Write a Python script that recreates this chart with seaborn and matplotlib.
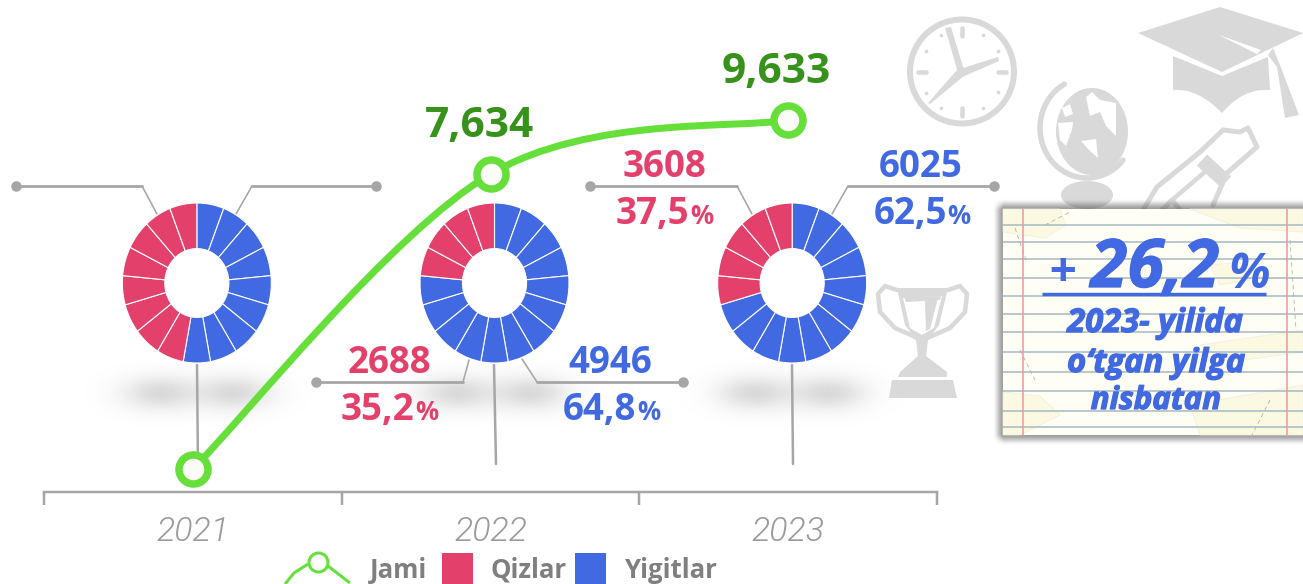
import numpy as np
import pandas as pd
import matplotlib
matplotlib.use('Agg')
import matplotlib.pyplot as plt
import matplotlib.patheffects as pe
from matplotlib.patches import Ellipse, PathPatch, Polygon, Rectangle
from matplotlib.path import Path
import seaborn as sns

# Data
years = ['2021', '2022', '2023']
jami_level = [23, 318, 372]  # height of the line above the axis (the chart is not to scale)
jami_labels = ['', '7,634', '9,633']
qizlar_counts = ['', '2688', '3608']
yigitlar_counts = ['', '4946', '6025']
qizlar_share = ['', '35,2', '37,5']
yigitlar_share = ['', '64,8', '62,5']
qizlar_wedges = [8, 4, 5]  # out of 17 wedges per donut
yigitlar_wedges = [9, 13, 12]
legend_labels = ['Jami', 'Qizlar', 'Yigitlar']

RED = '#E3416C'
BLUE = '#4169E1'
GREEN = '#66DF3A'
DARK_GREEN = '#36921A'
GREY = '#A6A6A6'
ICON = '#D9D9D9'
FONT = 'Open Sans'
PX = 72 / 100  # one pixel in points

sns.set_theme(style='white')
plt.rcParams['font.family'] = [FONT, 'DejaVu Sans']

W, H = 1303, 584
fig = plt.figure(figsize=(W / 100, H / 100), dpi=100)

# pixel canvas for the decoration, labels and note card
deco = fig.add_axes([0, 0, 1, 1], zorder=0)
deco.set_xlim(0, W)
deco.set_ylim(H, 0)
deco.axis('off')


def blob(cx, cy, sx, sy, amount):
    xs = np.arange(cx - 3 * sx, cx + 3 * sx)
    ys = np.arange(cy - 3 * sy, cy + 3 * sy)
    gx, gy = np.meshgrid(xs, ys)
    alpha = amount * np.exp(-((gx - cx) / sx) ** 2 / 2 - ((gy - cy) / sy) ** 2 / 2)
    img = np.zeros(alpha.shape + (4,))
    img[..., :3] = 0.55
    img[..., 3] = alpha
    deco.imshow(img, extent=(xs[0], xs[-1], ys[-1], ys[0]), aspect='auto', zorder=1, interpolation='bilinear')


def line(pts, lw=2.5, color=GREY, z=3, cap='round'):
    xs, ys = zip(*pts)
    deco.plot(xs, ys, color=color, lw=lw * PX, solid_capstyle=cap, solid_joinstyle='round', zorder=z)


def poly(pts, color=ICON, z=2):
    deco.add_patch(Polygon(pts, closed=True, fc=color, ec='none', zorder=z))


# donut shadows
for cx in [197, 494, 792]:
    blob(cx - 37, 393, 26, 12, 0.32)
    blob(cx + 37, 393, 26, 12, 0.32)

# leader lines
leaders = [
    [(16, 186), (142, 186), (157, 214)], [(376, 186), (252, 186), (236, 214)],
    [(316, 382), (463, 382), (469, 360)], [(683, 382), (537, 382), (522, 359)],
    [(590, 186), (737, 186), (752, 214)], [(994, 186), (848, 186), (832, 214)],
]
for pts in leaders:
    line(pts[:2], 2.8)
    line(pts[1:], 1.6)
    deco.scatter(*pts[0], s=(10.5 * PX) ** 2, color=GREY, zorder=3, lw=0)
line([(197, 365), (198, 470)])
line([(494, 365), (496, 464)])
line([(792, 365), (793, 464)])

# number labels, the % sign is smaller than the figure
def number(text, x, y, color, size=26.5, ha='center'):
    deco.text(x, y, text, color=color, fontsize=size, fontweight='bold', ha=ha, va='baseline', zorder=5)


number(qizlar_counts[1], 389, 373, RED)
number(qizlar_share[1], 414, 420, RED, ha='right')
number('%', 415, 420, RED, 18.5, 'left')
number(yigitlar_counts[1], 610, 373, BLUE)
number(yigitlar_share[1], 636, 420, BLUE, ha='right')
number('%', 637, 420, BLUE, 18.5, 'left')
number(qizlar_counts[2], 664, 177, RED)
number(qizlar_share[2], 689, 224, RED, ha='right')
number('%', 690, 224, RED, 18.5, 'left')
number(yigitlar_counts[2], 921, 177, BLUE)
number(yigitlar_share[2], 947, 224, BLUE, ha='right')
number('%', 947, 224, BLUE, 18.5, 'left')

# clock
deco.add_patch(Ellipse((962, 71.5), 104, 104, fc='none', ec=ICON, lw=6 * PX, zorder=2))
for k in range(0, 60, 5):
    a = np.radians(k * 6)
    if k % 15 == 0:
        line([(962 + 36 * np.sin(a), 71.5 - 36 * np.cos(a)), (962 + 44 * np.sin(a), 71.5 - 44 * np.cos(a))], 4.5, ICON, 2)
    else:
        deco.scatter(962 + 42 * np.sin(a), 71.5 - 42 * np.cos(a), s=7, color=ICON, lw=0, zorder=2)
poly([(945, 28), (951, 27), (964, 70), (959, 76)])
poly([(960, 69), (998, 57), (999, 61), (962, 77)])
poly([(957, 70), (964, 76), (930, 104), (928, 103)])

# globe
t = np.radians(np.arange(119, 322, 3))
line(list(zip(1087 + 47 * np.cos(t), 128 - 50 * np.sin(t))), 5.5, ICON, 2)
deco.add_patch(Ellipse((1092, 131.5), 72, 87, fc=ICON, ec='none', zorder=2))
for land in [
    [(1086, 97), (1092, 92), (1100, 100), (1116, 103), (1116, 136), (1106, 126), (1100, 112), (1090, 116)],
    [(1062, 108), (1070, 104), (1073, 114), (1065, 117)],
    [(1058, 123), (1073, 122), (1072, 130), (1066, 146), (1060, 140)],
    [(1081, 141), (1096, 139), (1098, 158), (1089, 150)],
]:
    poly(land, 'white', 2)
deco.add_patch(Ellipse((1087, 195), 52, 28, fc=ICON, ec='none', zorder=2))

# graduation cap
poly([(1138, 33), (1220, 7), (1303, 33), (1222, 72)])
poly([(1219, 35), (1261, 50), (1257, 54)], 'white')
poly([(1268, 55), (1273, 48), (1280, 65), (1299, 115), (1285, 118), (1277, 67)])
deco.add_patch(PathPatch(Path(
    [(1173, 56), (1222, 76), (1268, 57), (1270, 90), (1243, 88), (1222, 113), (1198, 88), (1173, 90), (1173, 56)],
    [Path.MOVETO, Path.LINETO, Path.LINETO, Path.LINETO, Path.CURVE3, Path.CURVE3, Path.CURVE3, Path.CURVE3, Path.CLOSEPOLY]),
    fc=ICON, ec='none', zorder=2))

# diploma
line([(1143, 210), (1157, 187), (1200, 152), (1223, 130), (1240, 132), (1248, 128), (1257, 147), (1227, 173), (1213, 205)], 5, ICON, 2)
line([(1202, 160), (1226, 182)], 15, ICON, 2, 'butt')
line([(1172, 200), (1213, 165)], 4.5, ICON, 2)
line([(1162, 210), (1172, 200), (1180, 210)], 5, ICON, 2)

# trophy
poly([(892, 380), (953, 380), (957, 398), (889, 398)])
poly([(897, 288), (948, 288), (939, 325), (928, 340), (926, 356), (947, 372), (947, 377), (898, 377), (900, 372), (918, 356), (916, 340), (905, 325)])
poly([(903, 298), (942, 296), (934, 328), (922, 335), (910, 328)], 'white')
poly([(904, 297), (941, 296), (940, 300), (906, 302)])
poly([(925, 301), (938, 298), (930, 329), (926, 331)])
line([(897, 290), (885, 286), (878, 294), (880, 312), (895, 328), (920, 339)], 4.5, ICON, 2)
line([(948, 290), (960, 286), (967, 294), (965, 312), (950, 328), (925, 339)], 4.5, ICON, 2)

# note card with its shadow
xs = np.arange(985, W + 1)
ys = np.arange(190, 456)
gx, gy = np.meshgrid(xs, ys)
edge = np.clip((gx - 992) / 11, 0, 1) * np.clip((gy - 198) / 11, 0, 1) * np.clip((446 - gy) / 11, 0, 1)
shadow = np.zeros(edge.shape + (4,))
shadow[..., :3] = 0.3
shadow[..., 3] = 0.55 * edge ** 2 * (3 - 2 * edge)
deco.imshow(shadow, extent=(985, W, 455, 190), aspect='auto', zorder=6)
deco.add_patch(Rectangle((1003, 209), 300, 226, fc='#FFFEF5', ec='none', zorder=7))
for pts in [
    [(1003, 209), (1060, 209), (1066, 225), (1045, 238), (1003, 232)],
    [(1190, 209), (1303, 209), (1303, 232), (1240, 228)],
    [(1003, 392), (1040, 396), (1060, 415), (1020, 435), (1003, 435)],
    [(1200, 345), (1303, 330), (1303, 352), (1230, 362)],
    [(1190, 405), (1303, 385), (1303, 435), (1200, 435)],
    [(1210, 265), (1240, 262), (1250, 280), (1220, 285)],
]:
    deco.add_patch(Polygon(pts, closed=True, fc='#FCF9E3', ec='#EFEDDD', lw=0.5, zorder=7.1))
for pts in [[(1015, 228), (1026, 260)], [(1290, 240), (1296, 330)], [(1020, 350), (1035, 380)], [(1270, 400), (1252, 435)], [(1045, 225), (1070, 212)]]:
    deco.plot(*zip(*pts), color='#B5B3A8', lw=0.6, ls=(0, (5, 4)), zorder=7.15)
for y in [225, 242, 259, 278, 296, 314, 332, 352, 372, 391, 411, 427]:
    deco.plot([1003, W], [y, y], color='#A3B8C1', lw=1.5 * PX, zorder=7.2)
for x in [1023, 1287]:
    deco.plot([x, x], [209, 435], color='#EC9CA2', lw=1.6 * PX, zorder=7.3)
heavy = [pe.withStroke(linewidth=0.9, foreground=BLUE)]
card = dict(color=BLUE, fontstyle='italic', fontweight='bold', va='baseline', zorder=8)
deco.text(1048, 287, '+', fontsize=36, ha='left', **card)
deco.text(1155, 287, '26,2', fontsize=48, ha='center', path_effects=heavy, **card)
deco.text(1228, 288, '%', fontsize=35, ha='left', **card)
line([(1042, 294), (1266, 294)], 3.4, BLUE, 8, 'butt')
deco.text(1155, 332, '2023- yilida', fontsize=23.5, ha='center', path_effects=heavy, **card)
deco.text(1156, 372, 'o‘tgan yilga', fontsize=23.5, ha='center', path_effects=heavy, **card)
deco.text(1156, 409, 'nisbatan', fontsize=22.5, ha='center', path_effects=heavy, **card)

# legend, cut off by the bottom edge as in the original
line([(285, 584), (294, 573), (308, 564)], 3, GREEN, 4, 'butt')
line([(328, 566), (350, 583)], 3, GREEN, 4, 'butt')
deco.scatter(318, 562, s=(19 * PX) ** 2, fc='white', ec=GREEN, lw=3 * PX, zorder=4)
deco.add_patch(Rectangle((442, 553), 31, 31, fc=RED, ec='none', zorder=4))
deco.add_patch(Rectangle((575, 553), 31, 31, fc=BLUE, ec='none', zorder=4))
for label, x in zip(legend_labels, [370, 491, 625]):
    deco.text(x, 578, label, color='#7F7F7F', fontsize=18.5, fontweight='bold', ha='left', va='baseline', zorder=4)

# main axis: three categories, the line runs from it
ax = fig.add_axes([44 / W, (H - 492) / H, 893 / W, 492 / H], zorder=3)
ax.patch.set_visible(False)
df = pd.DataFrame({'pos': range(len(years)), 'jami': jami_level})

px = df['pos'].to_numpy(float)
py = df['jami'].to_numpy(float)
verts = [(px[0], py[0])]
codes = [Path.MOVETO]
for i in range(len(px) - 1):
    t0 = (np.array([px[i + 1], py[i + 1]]) - np.array([px[max(i - 1, 0)], py[max(i - 1, 0)]])) / 6
    t1 = (np.array([px[min(i + 2, len(px) - 1)], py[min(i + 2, len(px) - 1)]]) - np.array([px[i], py[i]])) / 6
    verts += [(px[i] + t0[0], py[i] + t0[1]), (px[i + 1] - t1[0], py[i + 1] - t1[1]), (px[i + 1], py[i + 1])]
    codes += [Path.CURVE4] * 3
ax.add_patch(PathPatch(Path(verts, codes), fc='none', ec=GREEN, lw=7 * PX, capstyle='round', zorder=3))
sns.scatterplot(data=df, x='pos', y='jami', ax=ax, s=(29 * PX) ** 2, color='#FBFBF8', edgecolor=GREEN,
                linewidth=7.5 * PX, zorder=4, clip_on=False, legend=False)
for i, label in enumerate(jami_labels):
    if label:
        ax.annotate(label, (i, jami_level[i]), xytext=(-11.5, 37.5), textcoords='offset pixels', color=DARK_GREEN,
                    fontsize=30.5, fontweight='bold', ha='center', va='baseline', annotation_clip=False)

ax.set_xlim(-0.5, 2.5)
ax.set_ylim(0, 492)
ax.set_xlabel('')
ax.set_ylabel('')
ax.set_yticks([])
ax.set_xticks([-0.5, 0.5, 1.5, 2.5])
ax.set_xticklabels([])
ax.set_xticks(range(len(years)), labels=years, minor=True)
ax.tick_params(axis='x', which='major', bottom=True, length=13 * PX, width=2.5 * PX, color=GREY)
ax.tick_params(axis='x', which='minor', bottom=True, length=0, pad=24 * PX)
for lab in ax.get_xticklabels(minor=True):
    lab.set(family='Roboto', fontstyle='italic', fontweight=300, fontsize=24.5, color='#9A9A9A')
sns.despine(ax=ax, left=True)
ax.spines['bottom'].set_color(GREY)
ax.spines['bottom'].set_linewidth(2.5 * PX)

# donuts, 17 equal wedges, slightly taller than wide like the original
for i in range(len(years)):
    cx = ax.transData.transform((i, 0))[0] + 4
    pie_ax = fig.add_axes([(cx - 74.5) / W, (H - 363) / H, 149 / W, 160 / H], zorder=2)
    pie_ax.patch.set_visible(False)
    n_blue, n_red = yigitlar_wedges[i], qizlar_wedges[i]
    pie_ax.pie(np.ones(n_blue + n_red), colors=[BLUE] * n_blue + [RED] * n_red, startangle=90, counterclock=False,
               radius=1, wedgeprops=dict(width=0.57, edgecolor='white', linewidth=1.1 * PX))
    pie_ax.set_aspect('auto')
    pie_ax.set_xlim(-1, 1)
    pie_ax.set_ylim(-1, 1)

deco.set_xlim(0, W)
deco.set_ylim(H, 0)
fig.savefig('out.png', dpi=100)
